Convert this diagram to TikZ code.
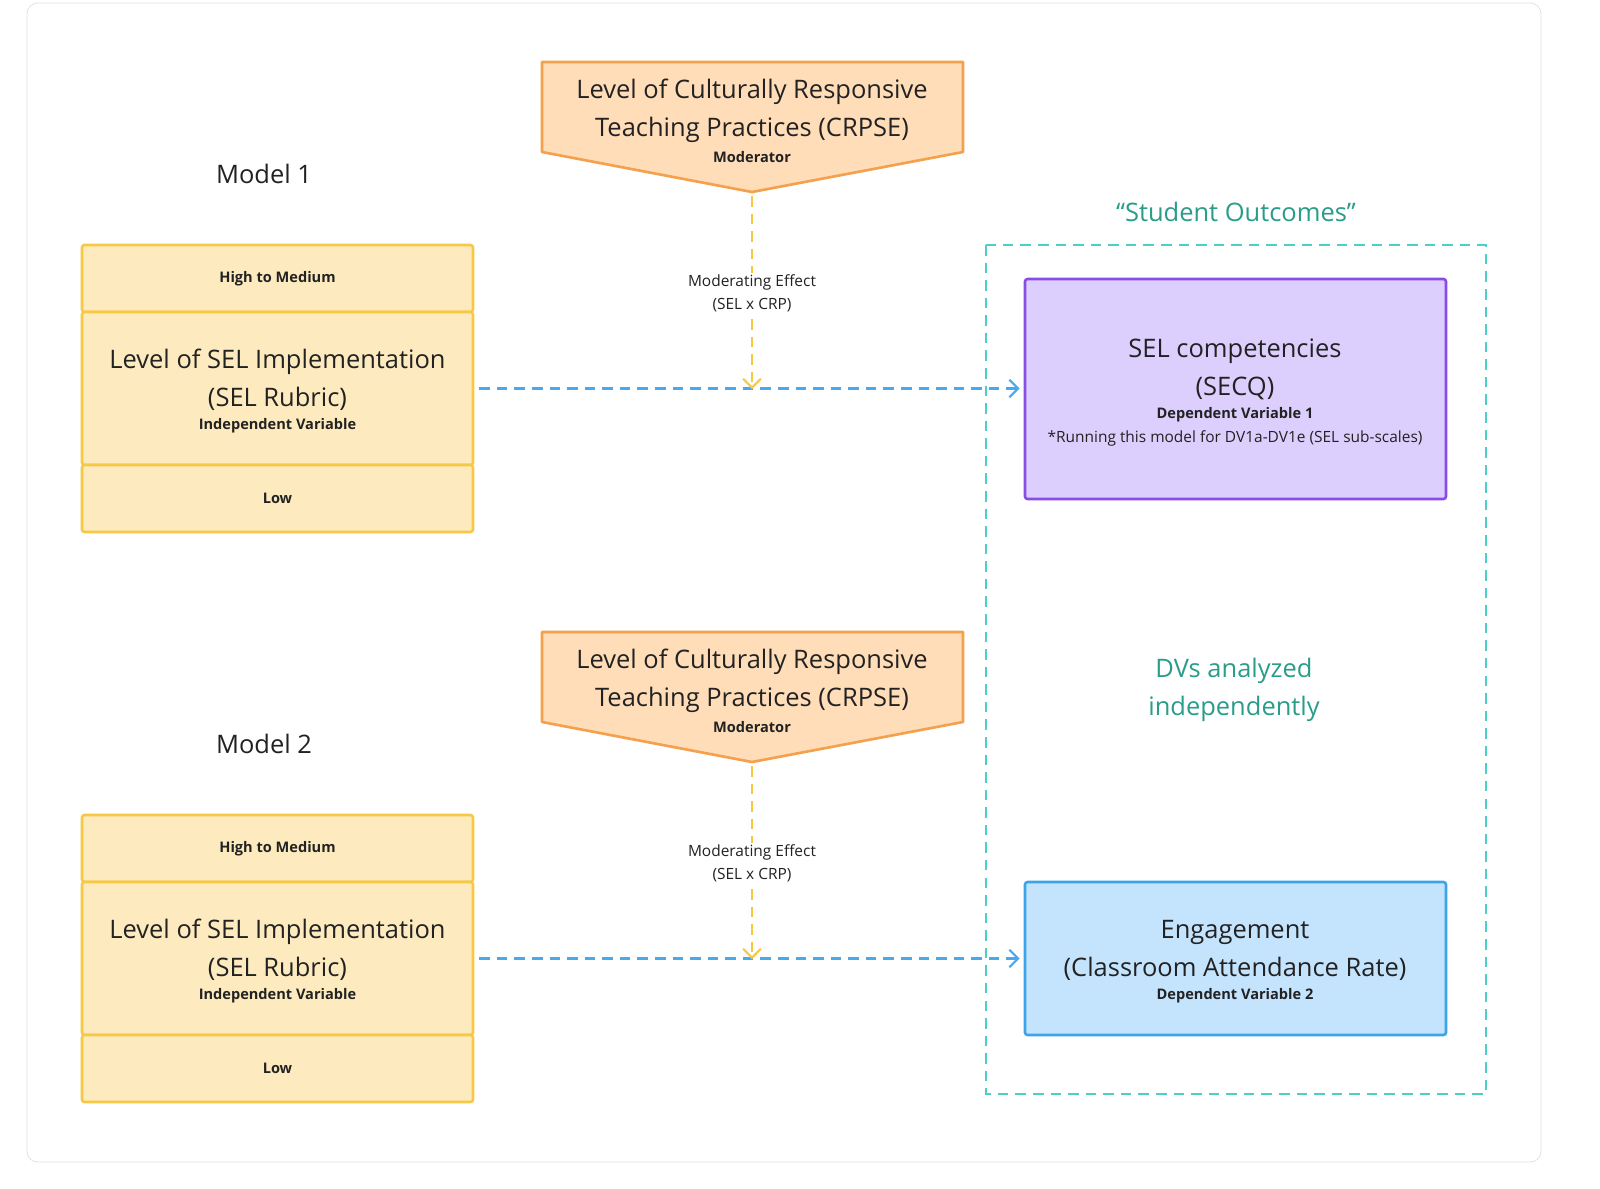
\documentclass[tikz,border=0pt]{standalone}
\usepackage{fontspec}
\setmainfont{Open Sans}
\usetikzlibrary{arrows.meta,positioning,calc}
\definecolor{ivfill}{HTML}{FDEBBF}
\definecolor{ivline}{HTML}{F7C844}
\definecolor{modfill}{HTML}{FFDDB8}
\definecolor{modline}{HTML}{F5A04C}
\definecolor{dvteal}{HTML}{2A9D8A}
\definecolor{tealline}{HTML}{4CCFC4}
\definecolor{arrblue}{HTML}{4AA8EC}
\definecolor{purpfill}{HTML}{DCCFFD}
\definecolor{purpline}{HTML}{8A4CE6}
\definecolor{bluefill}{HTML}{C4E3FD}
\definecolor{blueline}{HTML}{3BA5E8}
\definecolor{txt}{HTML}{222222}
\tikzset{
  cell/.style={draw=ivline, fill=ivfill, line width=1.5pt, rounded corners=1.5pt, minimum width=391*0.02cm, text=txt, align=center},
  big/.style={font=\fontsize{14.5}{21.6}\selectfont, text=txt, align=center},
  small/.style={font=\fontsize{8.3}{12}\selectfont\bfseries, text=txt},
  note/.style={font=\fontsize{8.8}{13}\selectfont, text=txt, align=center},
  mainarrow/.style={arrblue, line width=1.2pt, dash pattern=on 6pt off 4pt, -{Straight Barb[length=5pt,width=10pt]}},
  modarrow/.style={ivline, line width=1.2pt, dash pattern=on 6pt off 4pt, -{Straight Barb[length=5pt,width=10pt]}},
}
\begin{document}
\begin{tikzpicture}[x=0.02cm,y=-0.02cm]

% frame
\draw[gray!25, rounded corners=6pt, fill=white] (27,3) rectangle (1541,1162);

% student outcomes region
\draw[tealline, line width=1.3pt, dash pattern=on 6pt off 4pt] (986,245) rectangle (1486,1094);
\node[big, text=dvteal] (so) at (1236,212) {“Student Outcomes”};
\node[big, text=dvteal] (dvs) at (1234,690) {DVs analyzed\\independently};

% === dependent variables ===
\node[draw=purpline, fill=purpfill, line width=1.5pt, rounded corners=1.5pt, minimum width=421*0.02cm, minimum height=220*0.02cm] (dv1) at (1235.5,389) {};
\node[big] at (1235,369) {SEL competencies\\(SECQ)};
\node[small] at (1235,415) {Dependent Variable 1};
\node[note] at (1235,438) {*Running this model for DV1a-DV1e (SEL sub-scales)};

\node[draw=blueline, fill=bluefill, line width=1.5pt, rounded corners=1.5pt, minimum width=421*0.02cm, minimum height=153*0.02cm] (dv2) at (1235.5,958.5) {};
\node[big] at (1235,950) {Engagement\\(Classroom Attendance Rate)};
\node[small] at (1235,996) {Dependent Variable 2};

% === two models ===
\foreach \dy/\m/\dv in {0/1/dv1, 570/2/dv2}{
  \node[big] (model\m) at (264,174+\dy) {Model \m};
  % moderator
  \draw[modline, fill=modfill, line width=1.5pt, line join=round]
    (542,62+\dy) -- (963,62+\dy) -- (963,152+\dy) -- (752,192+\dy) -- (542,152+\dy) -- cycle;
  \coordinate (modtip\m) at (752,196+\dy);
  \node[big] (mod\m) at (752,111+\dy) {Level of Culturally Responsive\\Teaching Practices (CRPSE)};
  \node[small] at (752,157+\dy) {Moderator};
  % independent variable
  \node[cell, minimum height=67*0.02cm, small] (hi\m) at (277.5,278.5+\dy) {High to Medium};
  \node[cell, minimum height=153*0.02cm] (iv\m) at (277.5,388.5+\dy) {};
  \node[big] at (277.5,380+\dy) {Level of SEL Implementation\\(SEL Rubric)};
  \node[small] at (277.5,426+\dy) {Independent Variable};
  \node[cell, minimum height=67*0.02cm, small] (lo\m) at (277.5,498.5+\dy) {Low};
  % connectors
  \coordinate (meet\m) at (752,389+\dy);
  \draw[mainarrow] ($(iv\m.east)+(5,0)$) -- ($(\dv.west |- iv\m.east)+(-4,0)$);
  \draw[modarrow] (modtip\m) -- (meet\m);
  \node[note, fill=white, inner sep=1pt] (eff\m) at (752,293+\dy) {Moderating Effect\\(SEL x CRP)};
}

\pgfresetboundingbox
\path[use as bounding box] (0,0) rectangle (1600,1188);
\end{tikzpicture}
\end{document}
